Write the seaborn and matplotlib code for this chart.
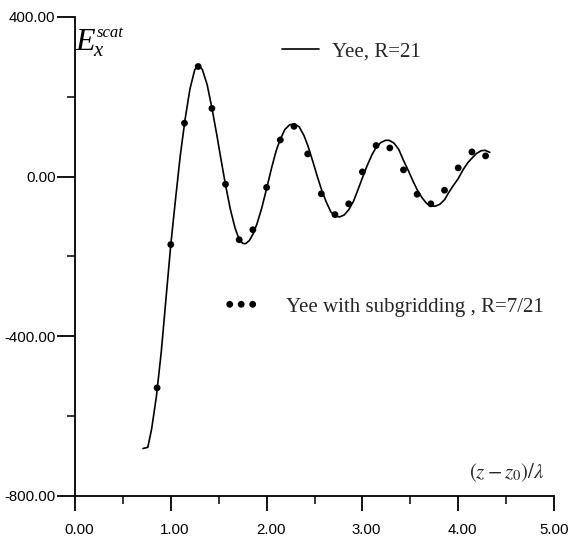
import numpy as np
import pandas as pd
import matplotlib
matplotlib.use("Agg")
import matplotlib.pyplot as plt
import matplotlib.transforms as mtransforms
import seaborn as sns

# ---- data ----
line_x = [0.71, 0.76, 0.80, 0.85, 0.90, 0.95, 1.00, 1.05, 1.10, 1.15, 1.20, 1.25, 1.29,
          1.33, 1.38, 1.43, 1.48, 1.53, 1.57, 1.62, 1.67, 1.71, 1.75, 1.78, 1.82, 1.86,
          1.90, 1.95, 2.00, 2.05, 2.10, 2.14, 2.19, 2.24, 2.29, 2.34, 2.39, 2.43, 2.48,
          2.53, 2.57, 2.62, 2.67, 2.71, 2.76, 2.81, 2.86, 2.91, 2.95, 3.00, 3.05, 3.10,
          3.14, 3.19, 3.24, 3.28, 3.33, 3.38, 3.43, 3.48, 3.53, 3.57, 3.62, 3.67, 3.71,
          3.76, 3.81, 3.86, 3.90, 3.95, 4.00, 4.05, 4.10, 4.15, 4.19, 4.24, 4.28, 4.33]
line_y = [-681, -678, -632, -550, -440, -305, -170, -55, 55, 145, 220, 268, 280,
          268, 230, 171, 105, 35, -19, -80, -128, -155, -167, -168, -160, -143,
          -118, -78, -30, 20, 65, 92, 118, 130, 132, 125, 103, 78, 40,
          0, -30, -62, -88, -98, -101, -96, -82, -60, -35, -3, 28, 55,
          72, 85, 91, 91, 84, 68, 40, 15, -12, -32, -52, -67, -73,
          -74, -69, -57, -40, -22, -5, 17, 35, 48, 58, 65, 66, 61]

dot_x = [0.857, 1.000, 1.143, 1.286, 1.429, 1.571, 1.714, 1.857, 2.000, 2.143, 2.286,
         2.429, 2.571, 2.714, 2.857, 3.000, 3.143, 3.286, 3.429, 3.571, 3.714, 3.857,
         4.000, 4.143, 4.286]
dot_y = [-529, -170, 134, 276, 171, -19, -158, -133, -27, 92, 126,
         57, -43, -95, -68, 12, 78, 72, 17, -44, -68, -34,
         22, 62, 52]

line_label = "Yee, R=21"
dot_label = "Yee with subgridding , R=7/21"
x_ticks = [0, 1, 2, 3, 4, 5]
y_ticks = [-800, -400, 0, 400]

# ---- style ----
sns.set_style("ticks")
plt.rcParams["font.family"] = ["Liberation Sans", "DejaVu Sans"]
plt.rcParams["mathtext.fontset"] = "stix"

fig = plt.figure(figsize=(5.69, 5.40), dpi=100)
ax = fig.add_axes([75 / 569, 44 / 540, 479 / 569, 479 / 540])

df_line = pd.DataFrame({"x": line_x, "y": line_y})
df_dot = pd.DataFrame({"x": dot_x, "y": dot_y})

sns.lineplot(data=df_line, x="x", y="y", ax=ax, color="black", linewidth=1.2,
             sort=False, estimator=None, label=line_label, legend=False)
sns.scatterplot(data=df_dot, x="x", y="y", ax=ax, color="black", s=24,
                edgecolor="none", label=dot_label, legend=False, zorder=3)

ax.set_xlim(0, 5)
ax.set_ylim(-800, 400)
ax.set_xticks(x_ticks)
ax.set_yticks(y_ticks)
ax.set_xticks([0.5, 1.5, 2.5, 3.5, 4.5], minor=True)
ax.set_yticks([-600, -200, 200], minor=True)
ax.xaxis.set_major_formatter(matplotlib.ticker.FormatStrFormatter("%.2f"))
ax.yaxis.set_major_formatter(matplotlib.ticker.FormatStrFormatter("%.2f"))

sns.despine(ax=ax)
for s in ["left", "bottom"]:
    ax.spines[s].set_linewidth(1.3)
    ax.spines[s].set_color("black")

ax.tick_params(axis="y", which="major", length=13, width=1.3, pad=1, labelsize=10.8, colors="black")
ax.tick_params(axis="y", which="minor", length=6, width=1.3)
ax.tick_params(axis="x", which="major", length=11, width=1.3, pad=8.5, labelsize=10.8, colors="black")
ax.tick_params(axis="x", which="minor", length=6, width=1.3)

xlabels = ax.get_xticklabels()
for i, lbl in enumerate(xlabels):
    dx = 4 if i < len(xlabels) - 1 else 0
    off = mtransforms.ScaledTranslation(dx / 100, 0, fig.dpi_scale_trans)
    lbl.set_transform(lbl.get_transform() + off)

ax.set_ylabel("")
ax.set_xlabel(r"$(z-z_0)/\lambda$", fontsize=15)
ax.xaxis.set_label_coords(0.902, 0.048)
ax.xaxis.label.set_va("center")

# E_x^scat label built from three pieces of italic serif text
serif_it = dict(family="Liberation Serif", style="italic", color="black")
ax.annotate("E", xy=(0.0, 318), xytext=(0, 0), textcoords="offset points",
            fontsize=23, va="baseline", ha="left", **serif_it)
ax.annotate("x", xy=(0.0, 318), xytext=(18 * 0.72, -6 * 0.72), textcoords="offset points",
            fontsize=15, va="baseline", ha="left", **serif_it)
ax.annotate("scat", xy=(0.0, 318), xytext=(22 * 0.72, 13 * 0.72), textcoords="offset points",
            fontsize=12, va="baseline", ha="left", **serif_it)

# legends
handles = ax.get_lines()[:1]
l1 = ax.legend(handles, [line_label], loc="center left", bbox_to_anchor=(0.432, 0.927),
               frameon=False, borderpad=0, borderaxespad=0, handlelength=1.8,
               handletextpad=0.6, prop={"family": "Liberation Serif", "size": 15})
ax.add_artist(l1)
coll = ax.collections[0]
l2 = ax.legend([coll], [dot_label], loc="center left", bbox_to_anchor=(0.31, 0.395),
               frameon=False, borderpad=0, borderaxespad=0, handlelength=1.7,
               handletextpad=1.3, scatterpoints=3, scatteryoffsets=[0.5],
               prop={"family": "Liberation Serif", "size": 15})

fig.savefig("out.png", dpi=100)
